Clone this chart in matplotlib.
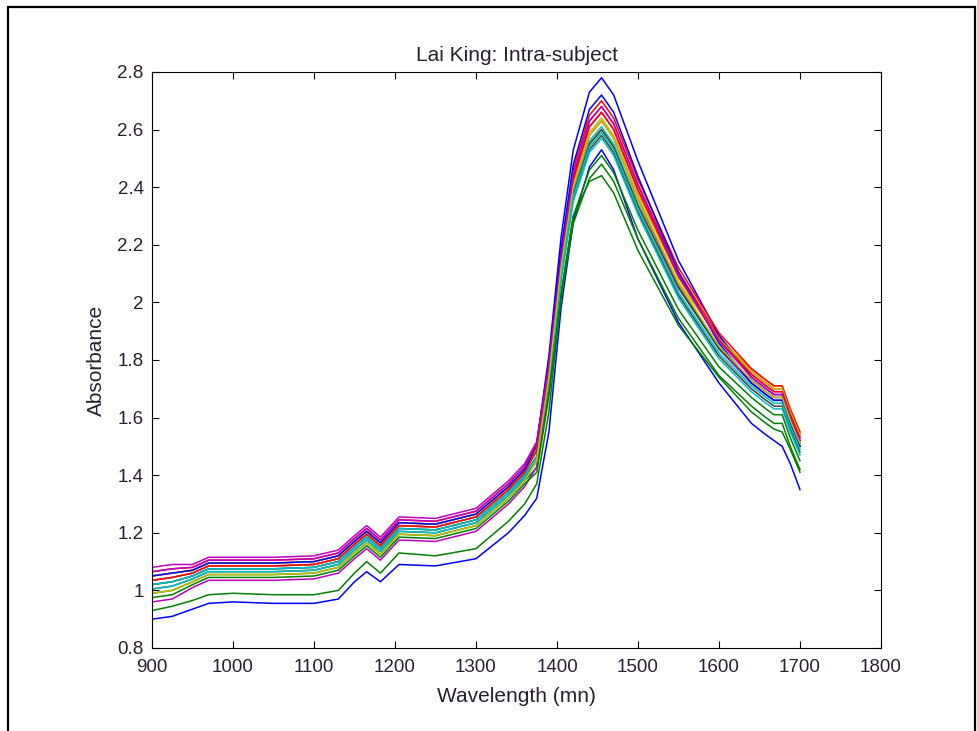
import matplotlib
matplotlib.use("Agg")
import matplotlib.pyplot as plt
from matplotlib.patches import Rectangle

plt.rcParams['font.family'] = ['Liberation Sans', 'DejaVu Sans']

wavelength = [900, 925, 950, 970, 1000, 1050, 1100, 1130, 1150, 1165, 1182, 1205, 1250, 1300,
              1340, 1360, 1375, 1390, 1405, 1420, 1440, 1455, 1470, 1500, 1550, 1600, 1640,
              1658, 1668, 1678, 1688, 1700]

s01 = [0.90, 0.91, 0.935, 0.955, 0.96, 0.955, 0.955, 0.97, 1.03, 1.065, 1.03, 1.09, 1.085, 1.11,
       1.20, 1.26, 1.32, 1.55, 1.98, 2.28, 2.47, 2.53, 2.46, 2.22, 1.93, 1.72, 1.58, 1.54, 1.52, 1.50, 1.44, 1.35]
s02 = [0.93, 0.945, 0.965, 0.985, 0.99, 0.985, 0.985, 1.00, 1.06, 1.10, 1.06, 1.13, 1.12, 1.145,
       1.24, 1.30, 1.37, 1.62, 2.02, 2.30, 2.42, 2.44, 2.38, 2.18, 1.92, 1.74, 1.62, 1.58, 1.56, 1.55, 1.49, 1.41]
s03 = [1.05, 1.06, 1.07, 1.095, 1.095, 1.095, 1.10, 1.12, 1.17, 1.205, 1.165, 1.235, 1.23, 1.265,
       1.36, 1.42, 1.50, 1.78, 2.155, 2.44, 2.63, 2.68, 2.62, 2.41, 2.105, 1.88, 1.76, 1.72, 1.70, 1.70, 1.62, 1.54]
s04 = [1.02, 1.03, 1.05, 1.075, 1.075, 1.075, 1.08, 1.10, 1.15, 1.185, 1.145, 1.215, 1.21, 1.245,
       1.34, 1.40, 1.466, 1.742, 2.106, 2.383, 2.56, 2.61, 2.55, 2.343, 2.05, 1.836, 1.72, 1.68, 1.66, 1.66, 1.58, 1.50]
s05 = [1.08, 1.09, 1.09, 1.115, 1.115, 1.115, 1.12, 1.14, 1.19, 1.225, 1.185, 1.255, 1.25, 1.285,
       1.38, 1.44, 1.516, 1.782, 2.141, 2.426, 2.61, 2.66, 2.60, 2.39, 2.09, 1.87, 1.75, 1.71, 1.69, 1.69, 1.61, 1.53]
s06 = [1.05, 1.06, 1.07, 1.095, 1.095, 1.095, 1.10, 1.12, 1.17, 1.205, 1.165, 1.235, 1.23, 1.265,
       1.36, 1.42, 1.484, 1.758, 2.099, 2.374, 2.55, 2.60, 2.54, 2.342, 2.07, 1.874, 1.77, 1.73, 1.71, 1.71, 1.63, 1.55]
s07 = [1.005, 1.015, 1.04, 1.065, 1.065, 1.065, 1.07, 1.09, 1.14, 1.175, 1.135, 1.205, 1.20, 1.235,
       1.33, 1.39, 1.45, 1.725, 2.085, 2.358, 2.53, 2.58, 2.52, 2.314, 2.025, 1.814, 1.70, 1.66, 1.64, 1.64, 1.56, 1.48]
s08 = [1.035, 1.045, 1.06, 1.085, 1.085, 1.085, 1.09, 1.11, 1.16, 1.195, 1.155, 1.225, 1.22, 1.255,
       1.35, 1.41, 1.51, 1.815, 2.225, 2.528, 2.73, 2.78, 2.72, 2.49, 2.145, 1.886, 1.74, 1.70, 1.68, 1.68, 1.60, 1.52]
s09 = [0.99, 1.00, 1.03, 1.055, 1.055, 1.055, 1.06, 1.08, 1.13, 1.165, 1.125, 1.195, 1.19, 1.225,
       1.32, 1.38, 1.426, 1.692, 2.036, 2.298, 2.46, 2.51, 2.45, 2.25, 1.975, 1.776, 1.67, 1.63, 1.61, 1.61, 1.53, 1.45]
s10 = [1.065, 1.075, 1.08, 1.105, 1.105, 1.105, 1.11, 1.13, 1.18, 1.215, 1.175, 1.245, 1.24, 1.275,
       1.37, 1.43, 1.514, 1.793, 2.169, 2.46, 2.65, 2.70, 2.64, 2.427, 2.12, 1.894, 1.77, 1.73, 1.71, 1.71, 1.63, 1.55]
s11 = [1.005, 1.015, 1.04, 1.065, 1.065, 1.065, 1.07, 1.09, 1.14, 1.175, 1.135, 1.205, 1.20, 1.235,
       1.33, 1.39, 1.448, 1.721, 2.078, 2.349, 2.52, 2.57, 2.51, 2.305, 2.015, 1.804, 1.69, 1.65, 1.63, 1.63, 1.55, 1.47]
s12 = [0.96, 0.97, 1.01, 1.035, 1.035, 1.035, 1.04, 1.06, 1.11, 1.145, 1.105, 1.175, 1.17, 1.205,
       1.30, 1.36, 1.43, 1.73, 2.12, 2.40, 2.58, 2.63, 2.57, 2.36, 2.06, 1.84, 1.72, 1.68, 1.66, 1.66, 1.58, 1.50]
s13 = [1.035, 1.045, 1.06, 1.085, 1.085, 1.085, 1.09, 1.11, 1.16, 1.195, 1.155, 1.225, 1.22, 1.255,
       1.35, 1.41, 1.482, 1.759, 2.127, 2.409, 2.59, 2.64, 2.58, 2.375, 2.085, 1.874, 1.76, 1.72, 1.70, 1.70, 1.62, 1.54]
s14 = [1.02, 1.03, 1.05, 1.075, 1.075, 1.075, 1.08, 1.10, 1.15, 1.185, 1.145, 1.215, 1.21, 1.245,
       1.34, 1.40, 1.464, 1.738, 2.099, 2.374, 2.55, 2.60, 2.54, 2.336, 2.05, 1.842, 1.73, 1.69, 1.67, 1.67, 1.59, 1.51]
s15 = [1.05, 1.06, 1.07, 1.095, 1.095, 1.095, 1.10, 1.12, 1.17, 1.205, 1.165, 1.235, 1.23, 1.265,
       1.36, 1.42, 1.508, 1.796, 2.183, 2.477, 2.67, 2.72, 2.66, 2.437, 2.105, 1.858, 1.72, 1.68, 1.66, 1.66, 1.58, 1.50]
s16 = [0.975, 0.985, 1.02, 1.045, 1.045, 1.045, 1.05, 1.07, 1.12, 1.155, 1.115, 1.185, 1.18, 1.215,
       1.31, 1.37, 1.41, 1.675, 2.015, 2.273, 2.43, 2.48, 2.42, 2.22, 1.945, 1.746, 1.64, 1.60, 1.58, 1.58, 1.50, 1.42]
s17 = [1.035, 1.045, 1.06, 1.085, 1.085, 1.085, 1.09, 1.11, 1.16, 1.195, 1.155, 1.225, 1.22, 1.255,
       1.35, 1.41, 1.486, 1.767, 2.141, 2.426, 2.61, 2.66, 2.60, 2.39, 2.09, 1.87, 1.75, 1.71, 1.69, 1.69, 1.61, 1.53]
s18 = [1.02, 1.03, 1.05, 1.075, 1.075, 1.075, 1.08, 1.10, 1.15, 1.185, 1.145, 1.215, 1.21, 1.245,
       1.34, 1.40, 1.462, 1.734, 2.092, 2.366, 2.54, 2.59, 2.53, 2.325, 2.035, 1.824, 1.71, 1.67, 1.65, 1.65, 1.57, 1.49]
s19 = [1.065, 1.075, 1.08, 1.105, 1.105, 1.105, 1.11, 1.13, 1.18, 1.215, 1.175, 1.245, 1.24, 1.275,
       1.37, 1.43, 1.51, 1.785, 2.155, 2.443, 2.63, 2.68, 2.62, 2.405, 2.095, 1.866, 1.74, 1.70, 1.68, 1.68, 1.60, 1.52]
s20 = [0.99, 1.00, 1.03, 1.055, 1.055, 1.055, 1.06, 1.08, 1.13, 1.165, 1.125, 1.195, 1.19, 1.225,
       1.32, 1.38, 1.45, 1.74, 2.12, 2.40, 2.58, 2.63, 2.57, 2.362, 2.065, 1.848, 1.73, 1.69, 1.67, 1.67, 1.59, 1.51]

series = [s01, s02, s03, s04, s05, s06, s07, s08, s09, s10,
          s11, s12, s13, s14, s15, s16, s17, s18, s19, s20]

matlab_colors = [(0, 0, 1), (0, 0.5, 0), (1, 0, 0), (0, 0.75, 0.75),
                 (0.75, 0, 0.75), (0.75, 0.75, 0), (0.25, 0.25, 0.25)]

title = "Lai King: Intra-subject"
xlabel = "Wavelength (mn)"
ylabel = "Absorbance"
xticks = [900, 1000, 1100, 1200, 1300, 1400, 1500, 1600, 1700, 1800]
yticks = [0.8, 1.0, 1.2, 1.4, 1.6, 1.8, 2.0, 2.2, 2.4, 2.6, 2.8]
ytick_labels = ["0.8", "1", "1.2", "1.4", "1.6", "1.8", "2", "2.2", "2.4", "2.6", "2.8"]

W, H = 977, 731
fig = plt.figure(figsize=(W / 100, H / 100), dpi=100)
fig.patch.set_facecolor("white")

# outer frame
fig.patches.append(Rectangle((8 / W, -0.01), (975 - 8) / W, 1 - 7 / H + 0.01,
                             transform=fig.transFigure, fill=False,
                             edgecolor="black", linewidth=1.6))

ax = fig.add_axes([152 / W, 1 - 648 / H, (881 - 152) / W, (648 - 72) / H])
for i, s in enumerate(series):
    ax.plot(wavelength, s, color=matlab_colors[i % len(matlab_colors)], linewidth=1.1)

ax.set_xlim(900, 1800)
ax.set_ylim(0.8, 2.8)
ax.set_xticks(xticks)
ax.set_xticklabels([str(v) for v in xticks])
ax.set_yticks(yticks)
ax.set_yticklabels(ytick_labels)
txtcol = "#2a1f33"
ax.tick_params(direction="in", top=True, right=True, length=5, width=0.8,
               labelsize=13.5, colors="black", labelcolor=txtcol)
ax.tick_params(axis="x", pad=8)
ax.tick_params(axis="y", pad=6)
for sp in ax.spines.values():
    sp.set_linewidth(0.8)
    sp.set_color("black")

ax.set_title(title, fontsize=15, color=txtcol, pad=8)
ax.set_xlabel(xlabel, fontsize=15, color=txtcol, labelpad=8)
ax.set_ylabel(ylabel, fontsize=15, color=txtcol, labelpad=8)

fig.savefig("out.png", dpi=100, facecolor="white")
